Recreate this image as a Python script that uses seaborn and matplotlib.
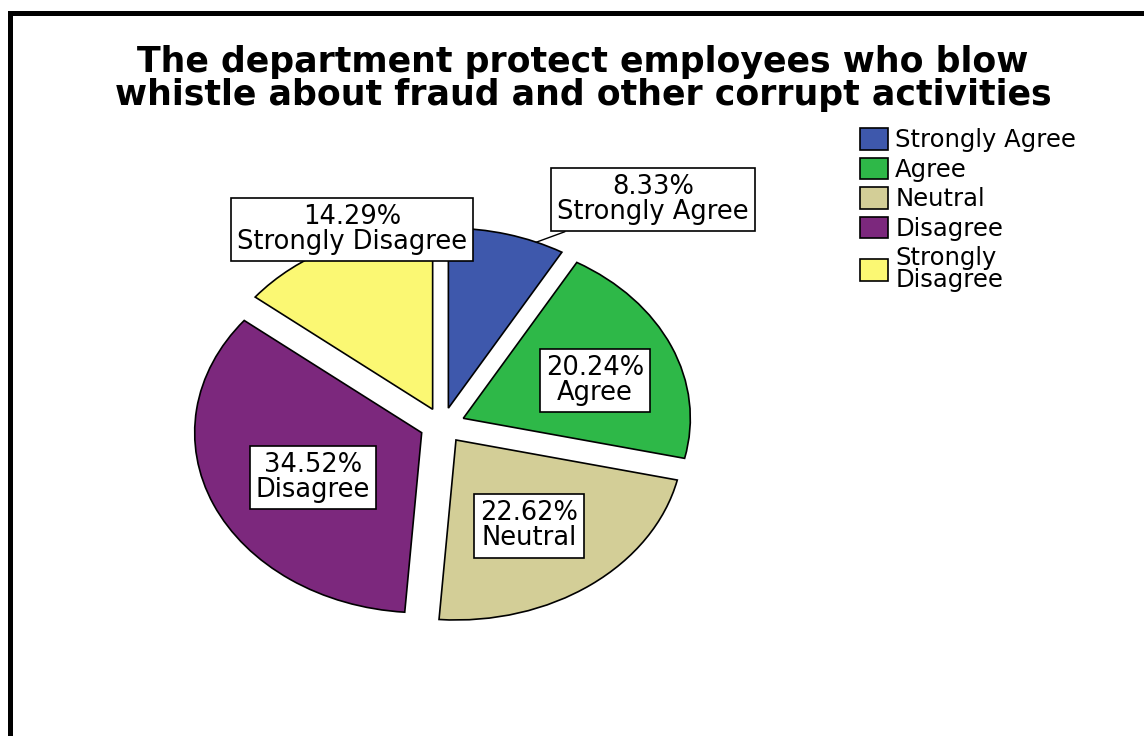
import numpy as np
import pandas as pd
import seaborn as sns
import matplotlib
matplotlib.use("Agg")
import matplotlib.pyplot as plt
from matplotlib.patches import Rectangle, Patch

# Survey responses (number of respondents per answer)
categories = ["Strongly Agree", "Agree", "Neutral", "Disagree", "Strongly Disagree"]
counts = [7, 17, 19, 29, 12]
slice_colors = ["#3E58AC", "#2EB848", "#D3CE97", "#7C287D", "#FBF873"]
legend_labels = ["Strongly Agree", "Agree", "Neutral", "Disagree", "Strongly\nDisagree"]

title = ("The department protect employees who blow\n"
         "whistle about fraud and other corrupt activities")

df = pd.DataFrame({"answer": categories, "count": counts})
df["pct"] = 100 * df["count"] / df["count"].sum()

sns.set_theme(style="white")
plt.rcParams["font.family"] = ["DejaVu Sans"]
plt.rcParams["text.color"] = "black"

W, H = 1144, 736
fig = plt.figure(figsize=(W / 100, H / 100), dpi=100)
fig.patch.set_facecolor("white")

# pie axes: centre (442.5, 425.5) px, radii 227 px (x) by 180 px (y)
cx, cy, rx, ry, lim = 442.5, 425.5, 227.0, 180.0, 1.25
ax = fig.add_axes([(cx - lim * rx) / W, (H - cy - lim * ry) / H,
                   2 * lim * rx / W, 2 * lim * ry / H])

wedges, _ = ax.pie(df["count"], explode=[0.1] * len(df), startangle=90,
                   counterclock=False, colors=slice_colors,
                   wedgeprops=dict(edgecolor="black", linewidth=1.2))
ax.set_aspect("auto")
ax.set_xlim(-lim, lim)
ax.set_ylim(-lim, lim)
ax.axis("off")

# label anchor positions in data units
label_pos = [(0.927, 1.256), (0.672, 0.250), (0.381, -0.558),
             (-0.570, -0.289), (-0.399, 1.089)]
box = dict(boxstyle="square,pad=0.24", facecolor="white",
           edgecolor="black", linewidth=1.2)

for i, row in df.iterrows():
    txt = f"{row['pct']:.2f}%\n{row['answer']}"
    if i == 0:
        w = wedges[0]
        ang = np.deg2rad(w.theta1 + 0.24 * (w.theta2 - w.theta1))
        edge = (w.center[0] + w.r * np.cos(ang), w.center[1] + w.r * np.sin(ang))
        ax.annotate(txt, xy=edge, xytext=label_pos[i], ha="center", va="center",
                    fontsize=18.5, linespacing=0.95, bbox=box,
                    arrowprops=dict(arrowstyle="-", color="black", lw=1.0,
                                    shrinkA=0, shrinkB=0),
                    annotation_clip=False)
    else:
        ax.text(*label_pos[i], txt, ha="center", va="center", fontsize=18.5,
                linespacing=0.95, bbox=box, clip_on=False)

fig.text(583 / W, 1 - 45 / H, title, ha="center", va="top", fontsize=25,
         fontweight="bold", linespacing=0.97)

handles = [Patch(facecolor=c, edgecolor="black", linewidth=1.2) for c in slice_colors]
leg = fig.legend(handles, legend_labels, loc="upper left",
                 bbox_to_anchor=(860 / W, 1 - 128 / H), frameon=False,
                 fontsize=17.5, handlelength=1.15, handleheight=1.0,
                 handletextpad=0.3, labelspacing=0.22, borderpad=0,
                 borderaxespad=0)
for t in leg.get_texts():
    t.set_linespacing(0.88)

# outer frame (runs off the right and bottom edges)
fig.add_artist(Rectangle((9.5 / W, -0.5), 2.0, 1.5 - 12.5 / H,
                         transform=fig.transFigure, fill=False,
                         edgecolor="black", linewidth=3.6))

fig.savefig("out.png", dpi=100, facecolor="white")
